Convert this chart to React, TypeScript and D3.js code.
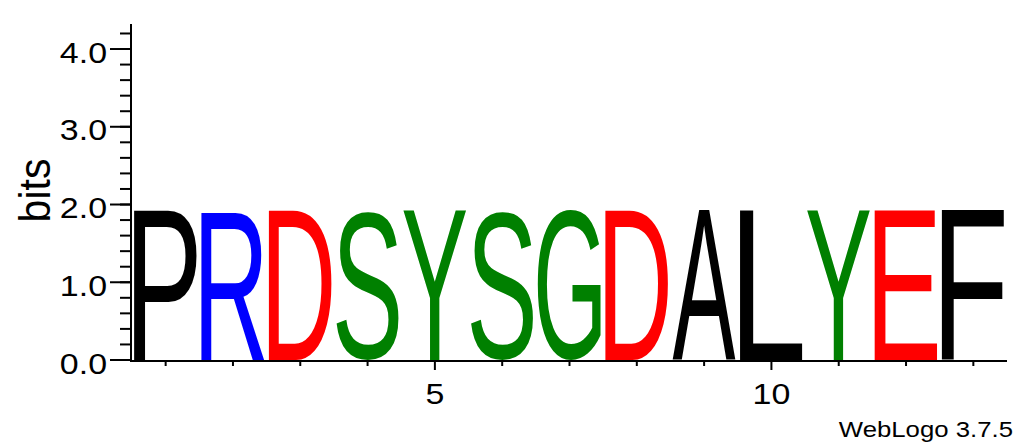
import { useMemo } from "react";
import * as d3 from "d3";

// sequence logo columns
const positions = [1, 2, 3, 4, 5, 6, 7, 8, 9, 10, 11, 12, 13];
const residues = ["P", "R", "D", "S", "Y", "S", "G", "D", "A", "L", "Y", "E", "F"];
const bits = [1.93, 1.93, 1.93, 1.93, 1.93, 1.93, 1.93, 1.93, 1.93, 1.93, 1.93, 1.93, 1.93];
const yTickLabels = ["0.0", "1.0", "2.0", "3.0", "4.0"];
const xTickLabels = [5, 10];

const colorOf: { [k: string]: string } = {
    P: "#000000", A: "#000000", L: "#000000", F: "#000000",
    R: "#0000ff",
    D: "#ff0000", E: "#ff0000",
    S: "#008000", Y: "#008000", G: "#008000",
};

const FONT = "Liberation Sans";
const width = 1030;
const height = 444;

type Box = { left: number; right: number; ascent: number; descent: number };

function measure(ch: string): Box {
    const ctx = document.createElement("canvas").getContext("2d")!;
    ctx.font = `100px "${FONT}"`;
    const m = ctx.measureText(ch);
    return {
        left: m.actualBoundingBoxLeft,
        right: m.actualBoundingBoxRight,
        ascent: m.actualBoundingBoxAscent,
        descent: m.actualBoundingBoxDescent,
    };
}

export default function App() {
    const x = d3.scaleLinear().domain([0.5, 13.5]).range([132, 1007]);
    const y = d3.scaleLinear().domain([0, Math.log2(20)]).range([360, 24]);

    const boxes = useMemo(() => {
        const out: { [k: string]: Box } = {};
        residues.forEach((r) => (out[r] = measure(r)));
        return out;
    }, []);

    const colW = x(1.5) - x(0.5);
    const gap = 4;
    const minorY = d3.range(0, 4.3, 0.2);

    return (
        <svg
            width={width}
            height={height}
            style={{ position: "absolute", left: 0, top: 0 }}
            fontFamily={FONT}
        >
            <rect width={width} height={height} fill="#fff" />

            {/* letters */}
            {positions.map((p, i) => {
                const r = residues[i];
                const b = boxes[r];
                const x0 = x(p) - colW / 2 + gap / 2;
                const w = colW - gap;
                const y0 = y(bits[i]);
                const h = y(0) - y0;
                const sx = w / (b.left + b.right);
                const sy = h / (b.ascent + b.descent);
                return (
                    <text
                        key={i}
                        fontSize={100}
                        fill={colorOf[r]}
                        transform={`translate(${x0 + b.left * sx},${y0 + b.ascent * sy}) scale(${sx},${sy})`}
                    >
                        {r}
                    </text>
                );
            })}

            {/* y axis */}
            <line x1={131} x2={131} y1={y(Math.log2(20))} y2={362} stroke="#000" strokeWidth={2} />
            {minorY.map((v) => (
                <line key={v} x1={120} x2={131} y1={y(v)} y2={y(v)} stroke="#000" strokeWidth={2} />
            ))}
            {yTickLabels.map((t) => (
                <g key={t}>
                    <line x1={110} x2={131} y1={y(+t)} y2={y(+t)} stroke="#000" strokeWidth={2} />
                    <g transform={`translate(107,${y(+t) + 13.5}) scale(1.17,1)`}>
                        <text fontSize={29} textAnchor="end">{t}</text>
                    </g>
                </g>
            ))}
            <g transform={`translate(50,${y(2.18)}) scale(1.1,1) rotate(-90)`}>
                <text fontSize={41} textAnchor="middle">bits</text>
            </g>

            {/* x axis */}
            <line x1={130} x2={1007} y1={361} y2={361} stroke="#000" strokeWidth={2} />
            {positions.map((p) => (
                <line
                    key={p}
                    x1={x(p)}
                    x2={x(p)}
                    y1={361}
                    y2={xTickLabels.includes(p) ? 370 : 366}
                    stroke="#000"
                    strokeWidth={2}
                />
            ))}
            {xTickLabels.map((t) => (
                <g key={t} transform={`translate(${x(t)},404) scale(1.17,1)`}>
                    <text fontSize={29} textAnchor="middle">{t}</text>
                </g>
            ))}

            <g transform="translate(1013,437) scale(1.12,1)">
                <text fontSize={23} textAnchor="end">WebLogo 3.7.5</text>
            </g>
        </svg>
    );
}
